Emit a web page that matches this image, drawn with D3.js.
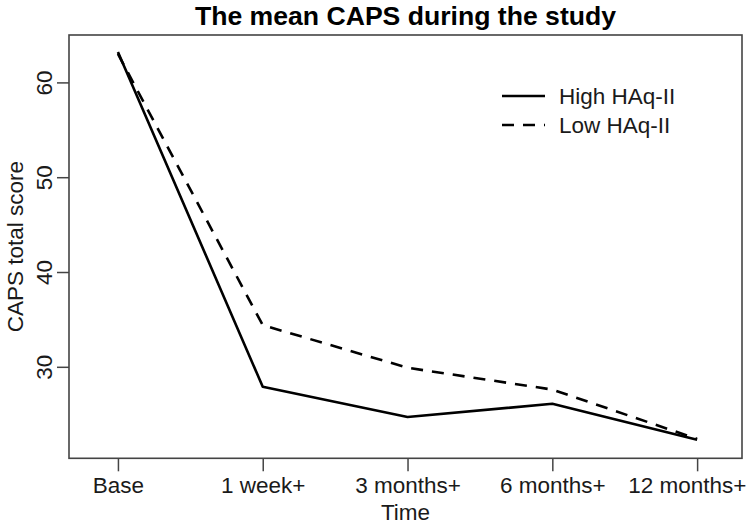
<!DOCTYPE html>
<html>
<head>
<meta charset="utf-8">
<script src="https://cdn.jsdelivr.net/npm/d3@7"></script>
<style>
  html, body { margin: 0; padding: 0; background: #fff; }
  svg { display: block; font-family: "Liberation Sans", Arial, Helvetica, sans-serif; }
</style>
</head>
<body>
<svg id="chart" width="750" height="526"></svg>
<script>
// ---- data ----
const timepoints = ["Base", "1 week+", "3 months+", "6 months+", "12 months+"];
const highHAq = [63.2, 27.9, 24.7, 26.1, 22.3];
const lowHAq  = [63.0, 34.4, 29.9, 27.6, 22.4];
const yTicks = [30, 40, 50, 60];
const seriesNames = ["High HAq-II", "Low HAq-II"];
const chartTitle = "The mean CAPS during the study";
const xTitle = "Time";
const yTitle = "CAPS total score";

// ---- layout ----
const svg = d3.select("#chart");
const plot = { left: 69, right: 742, top: 35, bottom: 458.3 };
const textColor = "#1a1a1a";

const x = d3.scaleLinear().domain([0.662, 5.31]).range([plot.left, plot.right]);
const y = d3.scaleLinear().domain([20.35, 65.0]).range([plot.bottom, plot.top]);

// x axis
const xAxis = d3.axisBottom(x)
  .tickValues(d3.range(1, timepoints.length + 1))
  .tickFormat((d, i) => timepoints[i])
  .tickSize(13)
  .tickSizeOuter(0);
const gx = svg.append("g").attr("transform", `translate(0,${plot.bottom})`).call(xAxis);
gx.select(".domain").remove();
gx.selectAll(".tick line").attr("stroke", "#444").attr("stroke-width", 1.5);
gx.selectAll(".tick text")
  .attr("y", 35).attr("dy", null)
  .attr("fill", textColor)
  .style("font-size", "22.5px");
// keep the last label inside the picture, as in the reference
gx.selectAll(".tick text").filter(d => d === timepoints.length)
  .attr("text-anchor", "end")
  .attr("x", 746 - x(timepoints.length));

// y axis
const yAxis = d3.axisLeft(y).tickValues(yTicks).tickSize(12).tickSizeOuter(0);
const gy = svg.append("g").attr("transform", `translate(${plot.left},0)`).call(yAxis);
gy.select(".domain").remove();
gy.selectAll(".tick line").attr("stroke", "#444").attr("stroke-width", 1.5);
gy.selectAll(".tick text")
  .attr("x", null).attr("dy", null)
  .attr("transform", "translate(-17.5,0) rotate(-90)")
  .attr("text-anchor", "middle")
  .attr("fill", textColor)
  .style("font-size", "22.5px");

// box
svg.append("rect")
  .attr("x", plot.left).attr("y", plot.top)
  .attr("width", plot.right - plot.left).attr("height", plot.bottom - plot.top)
  .attr("fill", "none").attr("stroke", "#444").attr("stroke-width", 1.6);

// lines
const line = d3.line().x((d, i) => x(i + 1)).y(d => y(d));
svg.append("path").datum(highHAq)
  .attr("d", line).attr("fill", "none")
  .attr("stroke", "#000").attr("stroke-width", 2.6).attr("stroke-linejoin", "round");
svg.append("path").datum(lowHAq)
  .attr("d", line).attr("fill", "none")
  .attr("stroke", "#000").attr("stroke-width", 2.6)
  .attr("stroke-dasharray", "12,9");

// titles
svg.append("text")
  .attr("x", (plot.left + plot.right) / 2).attr("y", 25)
  .attr("text-anchor", "middle").attr("fill", "#000")
  .style("font-size", "26.6px").style("font-weight", "bold")
  .text(chartTitle);
svg.append("text")
  .attr("x", (plot.left + plot.right) / 2).attr("y", 520)
  .attr("text-anchor", "middle").attr("fill", textColor)
  .style("font-size", "22.5px")
  .text(xTitle);
svg.append("text")
  .attr("transform", `translate(23,${(plot.top + plot.bottom) / 2}) rotate(-90)`)
  .attr("text-anchor", "middle").attr("fill", textColor)
  .style("font-size", "22.5px")
  .text(yTitle);

// legend
const legend = svg.append("g");
const dashes = [null, "12,9"];
seriesNames.forEach((name, i) => {
  const ly = 96 + i * 29;
  legend.append("line")
    .attr("x1", 502).attr("x2", 545).attr("y1", ly).attr("y2", ly)
    .attr("stroke", "#000").attr("stroke-width", 2.6)
    .attr("stroke-dasharray", dashes[i]);
  legend.append("text")
    .attr("x", 559).attr("y", ly + 8.3)
    .attr("fill", textColor)
    .style("font-size", "22.5px")
    .text(name);
});
</script>
</body>
</html>
